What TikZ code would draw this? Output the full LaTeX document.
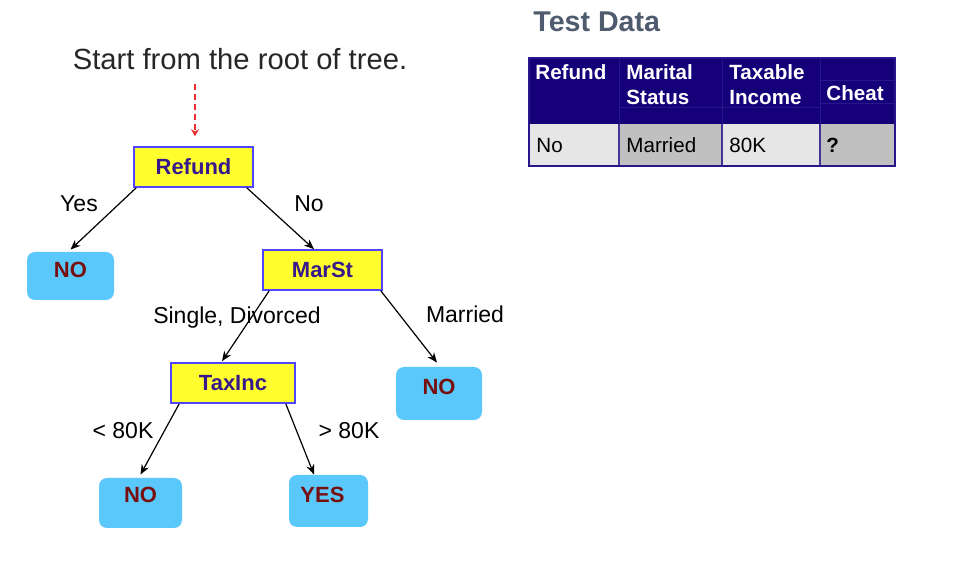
\documentclass[tikz,border=0pt]{standalone}
\usepackage{fontspec}
\setmainfont{Liberation Sans}
\usetikzlibrary{arrows.meta,positioning}

\definecolor{boxyellow}{RGB}{255,255,45}
\definecolor{boxblue}{RGB}{80,70,255}
\definecolor{boxtext}{RGB}{55,25,140}
\definecolor{leafblue}{RGB}{90,200,250}
\definecolor{leafred}{RGB}{120,15,15}
\definecolor{headnavy}{RGB}{22,0,122}
\definecolor{headline}{RGB}{40,22,140}
\definecolor{celllight}{RGB}{230,230,230}
\definecolor{celldark}{RGB}{192,192,192}
\definecolor{titlegrey}{RGB}{79,91,110}
\definecolor{startred}{RGB}{235,45,45}

\begin{document}
\begin{tikzpicture}[x=0.5pt,y=-0.5pt,
  testbox/.style={draw=boxblue, line width=0.8pt, fill=boxyellow,
    minimum width=59.5pt, minimum height=20pt, inner sep=0pt,
    font=\bfseries\fontsize{11}{13}\selectfont, text=boxtext},
  leafbox/.style={fill=leafblue, rounded corners=4pt, inner xsep=0pt, inner ysep=0pt,
    font=\bfseries\fontsize{11}{13}\selectfont, text=leafred},
  edge/.style={-{Stealth[length=5pt,width=4pt]}, line width=0.6pt},
  edgelabel/.style={font=\fontsize{11.5}{13}\selectfont, inner sep=0pt},
  tabletext/.style={anchor=west, inner sep=0pt, text height=7.3pt, text depth=0pt,
    font=\fontsize{10.3}{12}\selectfont}]

  \useasboundingbox (0,0) rectangle (960,571);

  % Left part - the decision tree
  \node[font=\fontsize{14.6}{17}\selectfont, text=black!85] (title) at (240,59) {Start from the root of tree.};
  \coordinate (start) at (195,84);

  % Test nodes
  \node[testbox] (refund) at (193.5,167) {Refund};
  \node[testbox] (marst) at (322.5,270) {MarSt};
  \node[testbox, minimum width=62pt] (taxinc) at (233,383) {TaxInc};

  % Leaf nodes
  \node[leafbox, minimum width=43.5pt, text height=12.95pt, text depth=11.05pt] (no1) at (70.5,276) {NO};
  \node[leafbox, minimum width=43pt, text height=13.95pt, text depth=12.55pt] (no2) at (439,393.5) {NO};
  \node[leafbox, minimum width=41.5pt, text height=12.45pt, text depth=12.55pt] (no3) at (140.5,503) {NO};
  \node[leafbox, minimum width=39.5pt, text height=13.95pt, text depth=12.05pt] (yes) at (328.5,501) {YES\hspace*{6pt}};

  % Start arrow
  \draw[startred, line width=1pt, dash pattern=on 3pt off 2pt,
    -{Stealth[length=3.5pt,width=4pt]}] (start) -- ([xshift=0.75pt,yshift=5pt]refund.north);

  % Edges
  \draw[edge] ([xshift=1.5pt]refund.south west) -- ([yshift=1pt]no1.north);
  \draw[edge] ([xshift=-3.5pt]refund.south east) -- ([xshift=-4.25pt]marst.north);
  \draw[edge] ([xshift=3.5pt]marst.south west) -- ([xshift=-5.5pt,yshift=0.5pt]taxinc.north);
  \draw[edge] ([xshift=-1pt]marst.south east) -- ([xshift=-1pt,yshift=2pt]no2.north);
  \draw[edge] ([xshift=4.5pt]taxinc.south west) -- ([yshift=1.5pt]no3.north);
  \draw[edge] ([xshift=-5pt]taxinc.south east) -- ([xshift=-7.25pt]yes.north);

  % Edge labels
  \node[edgelabel] (lyes) at (79,204) {Yes};
  \node[edgelabel] (lno) at (309,204) {No};
  \node[edgelabel] (lsingle) at (237,318) {Single, Divorced};
  \node[edgelabel] (lmarried) at (465,314) {Married};
  \node[edgelabel] (lless) at (123,431) {< 80K};
  \node[edgelabel] (lmore) at (349,431) {> 80K};

  % Right part - test data
  \node[anchor=west, inner sep=0pt, font=\bfseries\fontsize{14.3}{17}\selectfont, text=titlegrey] (testdata) at (533,22) {Test Data};

  % Table cells
  \fill[headnavy] (529,58) rectangle (895,124);
  \fill[celllight] (529,124) rectangle (619,166);
  \fill[celldark] (619,124) rectangle (722,166);
  \fill[celllight] (722,124) rectangle (820,166);
  \fill[celldark] (820,124) rectangle (895,166);

  % Faint lines in the header
  \foreach \x in {619,722,820} {
    \draw[headline, line width=0.3pt] (\x,58) -- (\x,124);
  }
  \draw[headline, line width=0.3pt] (619,107) -- (820,107);
  \draw[headline, line width=0.3pt] (820,80) -- (895,80);
  \draw[headline, line width=0.3pt] (820,103) -- (895,103);

  % Lines in the data row
  \foreach \x in {619,722,820} {
    \draw[headnavy!80, line width=0.8pt] (\x,124) -- (\x,166);
  }
  \draw[headline, line width=0.6pt] (529,58) rectangle (895,166);

  % Header texts
  \node[tabletext, text=white, font=\bfseries\fontsize{10.3}{12}\selectfont] (hrefund) at (535,72) {Refund};
  \node[tabletext, text=white, font=\bfseries\fontsize{10.3}{12}\selectfont] (hmarital) at (626,72) {Marital};
  \node[tabletext, text=white, font=\bfseries\fontsize{10.3}{12}\selectfont] (hstatus) at (626,97) {Status};
  \node[tabletext, text=white, font=\bfseries\fontsize{10.3}{12}\selectfont] (htaxable) at (729,72) {Taxable};
  \node[tabletext, text=white, font=\bfseries\fontsize{10.3}{12}\selectfont] (hincome) at (729,97) {Income};
  \node[tabletext, text=white, font=\bfseries\fontsize{10.3}{12}\selectfont] (hcheat) at (826,93) {Cheat};

  % Data row
  \node[tabletext] (drefund) at (536,145) {No};
  \node[tabletext] (dstatus) at (626,145) {Married};
  \node[tabletext] (dincome) at (729,145) {80K};
  \node[tabletext, font=\bfseries\fontsize{10.3}{12}\selectfont] (dcheat) at (826,145) {?};
\end{tikzpicture}
\end{document}
